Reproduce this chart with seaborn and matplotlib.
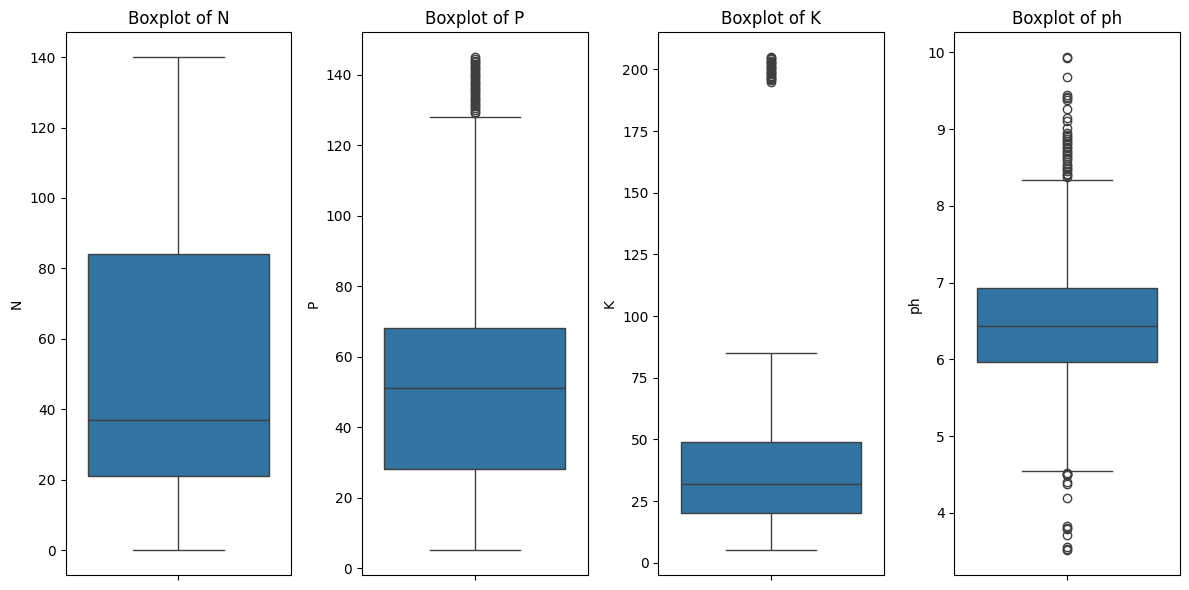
import numpy as np
import pandas as pd
import matplotlib.pyplot as plt
import seaborn as sns

# Box summaries: whisker low, Q1, median, Q3, whisker high
columns = ['N', 'P', 'K', 'ph']
whisker_low = [0, 5, 5, 4.55]
q1 = [21, 28, 20, 5.97]
median = [37, 51, 32, 6.43]
q3 = [84, 68, 49, 6.93]
whisker_high = [140, 128, 85, 8.34]

# Outliers (fliers)
low_outliers = {
    'N': [],
    'P': [],
    'K': [],
    'ph': [4.52, 4.51, 4.50, 4.49, 4.40, 4.37, 4.19, 3.83, 3.80, 3.79, 3.71, 3.56, 3.53, 3.51],
}
high_outliers = {
    'N': [],
    'P': [129, 129.5, 130, 130.5, 131, 131.5, 132, 132.5, 133, 133.5, 134, 134.5,
          135, 135.5, 136, 136.5, 137, 137.5, 138, 138.5, 139, 139.5, 140, 140.5,
          141, 141.5, 142, 142.5, 143, 143.5, 144, 144.5, 145],
    'K': [195, 195.5, 196, 196.5, 197, 197.5, 198, 198.5, 199, 199.5, 200, 200.5,
          201, 201.5, 202, 202.5, 203, 203.5, 204, 204.5, 205],
    'ph': [9.94, 9.93, 9.68, 9.45, 9.42, 9.40, 9.38, 9.26, 9.15, 9.10, 9.02, 8.95,
           8.92, 8.90, 8.87, 8.85, 8.82, 8.80, 8.77, 8.75, 8.72, 8.70, 8.67, 8.65,
           8.62, 8.60, 8.55, 8.52, 8.50, 8.48, 8.45, 8.42, 8.40, 8.38],
}

# Each quartile value is repeated so that the computed quartiles land on it
block = 80


def build_sample(i, col):
    core = np.repeat([q1[i], median[i], q3[i]], block)
    return np.concatenate([low_outliers[col], [whisker_low[i]], core,
                           [whisker_high[i]], high_outliers[col]])


fig, axes = plt.subplots(1, 4, figsize=(12, 6), dpi=100)
for i, col in enumerate(columns):
    df = pd.DataFrame({col: build_sample(i, col)})
    sns.boxplot(y=df[col], ax=axes[i])
    axes[i].set_title(f'Boxplot of {col}')

plt.tight_layout()
plt.savefig('out.png', bbox_inches='tight')
plt.close()
